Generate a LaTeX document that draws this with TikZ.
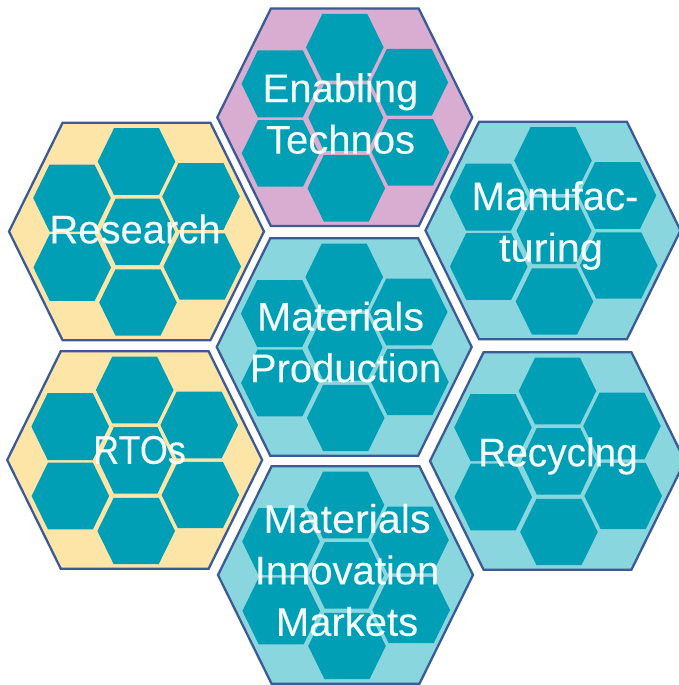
\documentclass[tikz,border=0pt]{standalone}
\usepackage{fontspec}
\setmainfont{Liberation Sans}
\newfontface\hexfont{Liberation Sans}[FakeBold=0.15]
\definecolor{cellteal}{HTML}{019FB5}
\definecolor{bgyellow}{HTML}{FDE5A8}
\definecolor{bgpink}{HTML}{D9ADD1}
\definecolor{bgaqua}{HTML}{8AD6DF}
\definecolor{rimblue}{HTML}{3C5A96}
\newcommand{\sx}[2]{\scalebox{#1}[1]{#2}}
\newcommand{\hexpath}[4]{% cx cy halfwidth halfheight
  ({#1-#3},{#2}) -- ({#1-0.58*#3},{#2-#4}) -- ({#1+0.58*#3},{#2-#4}) -- ({#1+#3},{#2}) -- ({#1+0.58*#3},{#2+#4}) -- ({#1-0.58*#3},{#2+#4}) -- cycle}
\newcommand{\cluster}[3]{% cx cy colour
  \filldraw[outerhex,fill=#3] \hexpath{#1}{#2}{127.5}{108.7};
  \fill[innerhex] \hexpath{#1+0}{#2-70}{38.8}{33.3};
  \fill[innerhex] \hexpath{#1-64.5}{#2-33.5}{38.8}{33.5};
  \fill[innerhex] \hexpath{#1+64.5}{#2-35}{38.8}{33.3};
  \fill[innerhex] \hexpath{#1+1}{#2+0.3}{37.5}{33.3};
  \fill[innerhex] \hexpath{#1-64.3}{#2+36}{38.8}{33.3};
  \fill[innerhex] \hexpath{#1+65.7}{#2+35}{38.8}{33.2};
  \fill[innerhex] \hexpath{#1+1.5}{#2+71}{38.8}{33.2};
}
\tikzset{
  outerhex/.style={draw=rimblue,line width=2.3pt,line join=miter},
  innerhex/.style={fill=cellteal},
  hexlabel/.style={text=white,font=\hexfont\fontsize{40}{51.5}\selectfont,align=center,inner sep=0pt,anchor=center,text opacity=0.95}
}
\begin{document}
\begin{tikzpicture}[x=1pt,y=-1pt]
\useasboundingbox (0,0) rectangle (679,685);
\clip (0,0) rectangle (679,685);
\cluster{344.8}{117.3}{bgpink}
\cluster{136.5}{231.5}{bgyellow}
\cluster{553}{230.5}{bgaqua}
\cluster{344.2}{347}{bgaqua}
\cluster{134.7}{460}{bgyellow}
\cluster{557.5}{461}{bgaqua}
\cluster{345.5}{575}{bgaqua}
\node[hexlabel] (enabling) at (340.5,113.5) {Enabling\\Technos};
\node[hexlabel] (research) at (135,229) {Research};
\node[hexlabel] (manufacturing) at (555,225.5) {Manufac-\\\sx{1.04}{turing}\hspace*{8pt}};
\node[hexlabel] (production) at (345.5,342) {\sx{1.03}{Materials}\hspace*{10pt}\\Production};
\node[hexlabel] (rtos) at (139.5,450) {\sx{0.9}{RTOs}};
\node[hexlabel] (recycling) at (558,456) {\sx{0.97}{Recyclng}};
\node[hexlabel] (markets) at (347,570) {\sx{1.03}{Materials}\\Innovation\\Markets};
\end{tikzpicture}
\end{document}
